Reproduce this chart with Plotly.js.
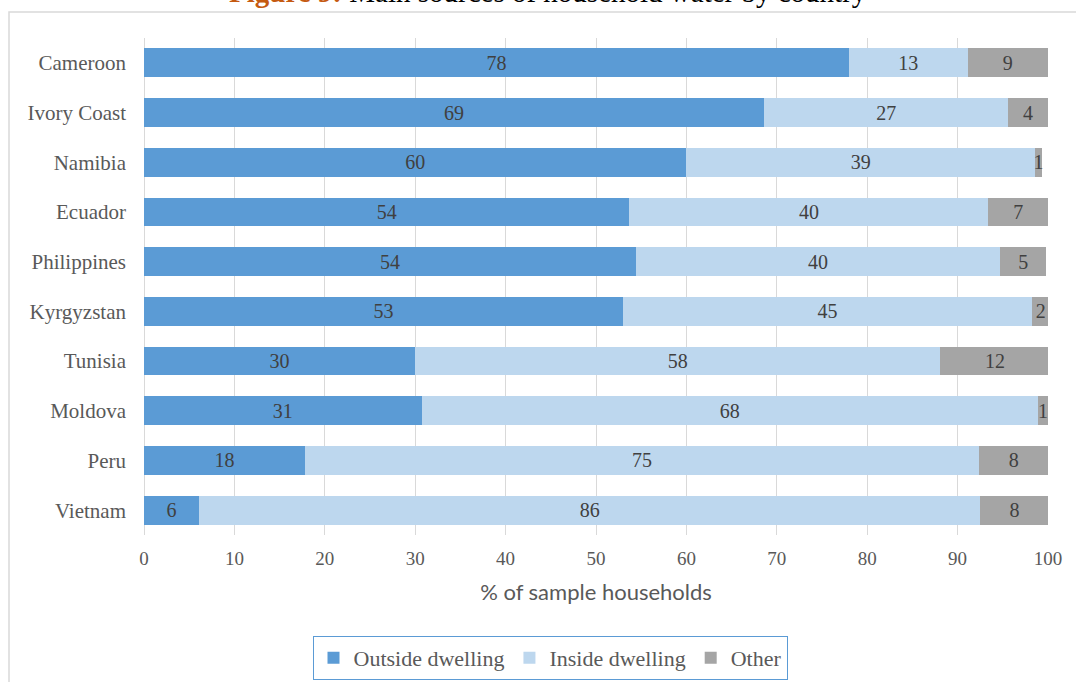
<!DOCTYPE html>
<html>
<head>
<meta charset="utf-8">
<script src="https://cdn.plot.ly/plotly-3.0.1.min.js"></script>
<style>html,body{margin:0;padding:0;background:#fff;}#chart{width:1076px;height:682px;}</style>
</head>
<body>
<div id="chart"></div>
<script>
const countries = ["Cameroon","Ivory Coast","Namibia","Ecuador","Philippines","Kyrgyzstan","Tunisia","Moldova","Peru","Vietnam"];
const outsideDwelling = [78.0, 68.6, 60.0, 53.7, 54.4, 53.0, 30.0, 30.7, 17.8, 6.1];
const insideDwelling  = [13.1, 27.0, 38.6, 39.7, 40.3, 45.2, 58.1, 68.2, 74.6, 86.4];
const otherSource     = [8.9, 4.4, 0.7, 6.6, 5.1, 2.0, 12.1, 1.1, 7.6, 7.6];
const xTicks = [0,10,20,30,40,50,60,70,80,90,100];
const seriesNames = ["Outside dwelling","Inside dwelling","Other"];
const seriesColors = ["#5B9BD5","#BDD7EE","#A5A5A5"];

const serif = "Liberation Serif, Times New Roman, serif";
const allSeries = [outsideDwelling, insideDwelling, otherSource];
const traces = allSeries.map((vals, i) => ({
  type: "bar",
  orientation: "h",
  name: seriesNames[i],
  y: countries,
  x: vals,
  marker: {color: seriesColors[i], line: {width: 0}},
  texttemplate: "%{x:.0f}",
  textposition: "inside",
  insidetextanchor: "middle",
  textangle: 0,
  constraintext: "none",
  textfont: {family: serif, size: 20, color: "#404040"},
  hoverinfo: "skip"
}));

const L = 144, R = 1048, T = 38, B = 535;
const px2x = p => (p - L) / (R - L);
const py2y = p => (B - p) / (B - T);

const layout = {
  width: 1076, height: 682,
  margin: {l: L, r: 1076 - R, t: T, b: 682 - B, autoexpand: false},
  paper_bgcolor: "#fff", plot_bgcolor: "#fff",
  barmode: "stack",
  bargap: 0.42,
  showlegend: true,
  legend: {
    orientation: "h",
    xref: "paper", x: px2x(550), xanchor: "center",
    yref: "container", y: 1 - 636 / 682, yanchor: "top",
    bordercolor: "#5B9BD5", borderwidth: 1,
    font: {family: serif, size: 22, color: "#595959"},
    itemwidth: 30,
    traceorder: "normal"
  },
  xaxis: {
    range: [0, 100],
    automargin: false,
    tickvals: xTicks,
    ticktext: xTicks.map(String),
    showgrid: true, gridcolor: "#D9D9D9", gridwidth: 1,
    zeroline: true, zerolinecolor: "#D9D9D9", zerolinewidth: 1,
    showline: false, ticks: "",
    ticklabelstandoff: 10,
    tickfont: {family: serif, size: 19, color: "#595959"},
    title: {text: "% of sample households", font: {family: "Lato, Open Sans, sans-serif", size: 22, color: "#595959"}, standoff: 16},
    fixedrange: true
  },
  yaxis: {
    type: "category",
    automargin: false,
    categoryorder: "array",
    categoryarray: countries,
    autorange: "reversed",
    showgrid: false, zeroline: false, showline: false, ticks: "",
    ticklabelstandoff: 17,
    tickfont: {family: serif, size: 21, color: "#595959"},
    fixedrange: true
  },
  shapes: [{
    type: "rect", xref: "paper", yref: "paper",
    x0: px2x(9), x1: px2x(1090), y0: py2y(695), y1: py2y(12),
    line: {color: "#D9D9D9", width: 1.5}, fillcolor: "rgba(0,0,0,0)", layer: "below"
  }],
  annotations: [{
    xref: "paper", yref: "paper",
    x: px2x(548), y: 1, xanchor: "center", yanchor: "bottom", yshift: 28,
    showarrow: false,
    text: "<b><span style='color:#C55A11'>Figure 9:</span></b> Main sources of household water by country",
    font: {family: serif, size: 29, color: "#000"}
  }]
};

Plotly.newPlot("chart", traces, layout, {displayModeBar: false, staticPlot: true});
</script>
</body>
</html>
